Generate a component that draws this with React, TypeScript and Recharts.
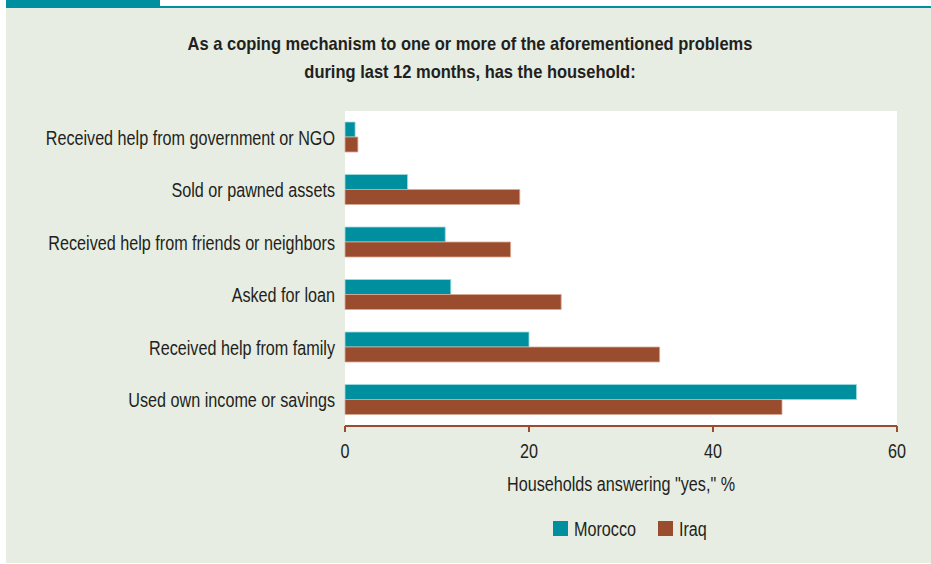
import { BarChart, Bar, XAxis, YAxis, CartesianGrid, Legend } from 'recharts';

const categories = [
  'Received help from government or NGO',
  'Sold or pawned assets',
  'Received help from friends or neighbors',
  'Asked for loan',
  'Received help from family',
  'Used own income or savings',
];
const morocco = [1.1, 6.8, 10.9, 11.5, 20.0, 55.6];
const iraq = [1.4, 19.0, 18.0, 23.5, 34.2, 47.5];
const xTicks = [0, 20, 40, 60];

const data = categories.map((name, i) => ({ name, morocco: morocco[i], iraq: iraq[i] }));

const TEAL = '#008f9f';
const BROWN = '#9a4d2e';
const INK = '#231f20';
const FONT = '"Liberation Sans", Arial, sans-serif';
const FS = 21;
const SQUEEZE = 0.77; // fake a condensed face

const CatTick = ({ x, y, payload }: any) => (
  <text
    transform={`translate(${x},${y}) scale(${SQUEEZE},1)`}
    textAnchor="end"
    dy="0.35em"
    fill={INK}
    fontSize={FS}
    fontFamily={FONT}
  >
    {payload.value}
  </text>
);

const NumTick = ({ x, y, payload }: any) => (
  <text
    transform={`translate(${x},${y}) scale(${SQUEEZE},1)`}
    textAnchor="middle"
    dy={24}
    fill={INK}
    fontSize={FS}
    fontFamily={FONT}
  >
    {payload.value}
  </text>
);

const AxisTitle = ({ viewBox }: any) => (
  <text
    transform={`translate(${viewBox.x + viewBox.width / 2},${viewBox.y + 65}) scale(${SQUEEZE},1)`}
    textAnchor="middle"
    fill={INK}
    fontSize={FS}
    fontFamily={FONT}
  >
    Households answering "yes," %
  </text>
);

const legendItems = [
  { label: 'Morocco', color: TEAL, x: 553 },
  { label: 'Iraq', color: BROWN, x: 658 },
];

const LegendBox = () => (
  <svg width={931} height={30} style={{ display: 'block' }}>
    {legendItems.map((it) => (
      <g key={it.label}>
        <rect x={it.x} y={9} width={15} height={15} fill={it.color} />
        <text
          transform={`translate(${it.x + 21},24) scale(${SQUEEZE},1)`}
          fill={INK}
          fontSize={FS}
          fontFamily={FONT}
        >
          {it.label}
        </text>
      </g>
    ))}
  </svg>
);

export default function App() {
  return (
    <div style={{ position: 'absolute', left: 0, top: 0, width: 931, height: 564, background: '#ffffff' }}>
      {/* panel background + top rule */}
      <div style={{ position: 'absolute', left: 6, top: 8, width: 925, height: 555, background: '#e7ede2' }} />
      <div style={{ position: 'absolute', left: 6, top: 6, width: 925, height: 2, background: TEAL }} />
      <div style={{ position: 'absolute', left: 6, top: 0, width: 154, height: 7, background: TEAL }} />

      <div
        style={{
          position: 'absolute',
          left: 0,
          top: 30,
          width: 940,
          textAlign: 'center',
          fontFamily: FONT,
          fontWeight: 'bold',
          fontSize: 19,
          lineHeight: '28px',
          color: INK,
          transform: 'scaleX(0.867)',
          transformOrigin: '470px 0',
        }}
      >
        As a coping mechanism to one or more of the aforementioned problems
        <br />
        during last 12 months, has the household:
      </div>

      <div style={{ position: 'absolute', left: 0, top: 0 }}>
        <BarChart
          width={931}
          height={564}
          data={data}
          layout="vertical"
          margin={{ top: 111, right: 34, bottom: 83, left: 0 }}
          barGap={0}
          barSize={15}
        >
          <CartesianGrid fill="#ffffff" stroke="none" horizontal={false} vertical={false} />
          <YAxis
            yAxisId="frame"
            type="number"
            domain={[0, 6]}
            ticks={[0, 1, 2, 3, 4, 5, 6]}
            width={0}
            tickFormatter={() => ''}
            axisLine={{ stroke: BROWN, strokeWidth: 2 }}
            tickLine={{ stroke: BROWN, strokeWidth: 2 }}
            tickSize={8}
          />
          <YAxis
            yAxisId="cat"
            type="category"
            dataKey="name"
            width={345}
            axisLine={false}
            tickLine={false}
            tickMargin={4}
            tick={<CatTick />}
          />
          <XAxis
            type="number"
            domain={[0, 60]}
            ticks={xTicks}
            height={30}
            axisLine={{ stroke: BROWN, strokeWidth: 2 }}
            tickLine={{ stroke: BROWN, strokeWidth: 2 }}
            tickSize={6}
            tick={<NumTick />}
            label={<AxisTitle />}
          />
          <Legend
            verticalAlign="bottom"
            content={() => <LegendBox />}
            wrapperStyle={{ top: 512, bottom: 'auto', left: 0, width: 931, height: 25 }}
          />
          <Bar yAxisId="cat" dataKey="morocco" name="Morocco" fill={TEAL} stroke="#9fdbe2" strokeWidth={0.8} isAnimationActive={false} />
          <Bar yAxisId="cat" dataKey="iraq" name="Iraq" fill={BROWN} stroke="#d9a895" strokeWidth={0.8} isAnimationActive={false} />
        </BarChart>
      </div>
    </div>
  );
}
